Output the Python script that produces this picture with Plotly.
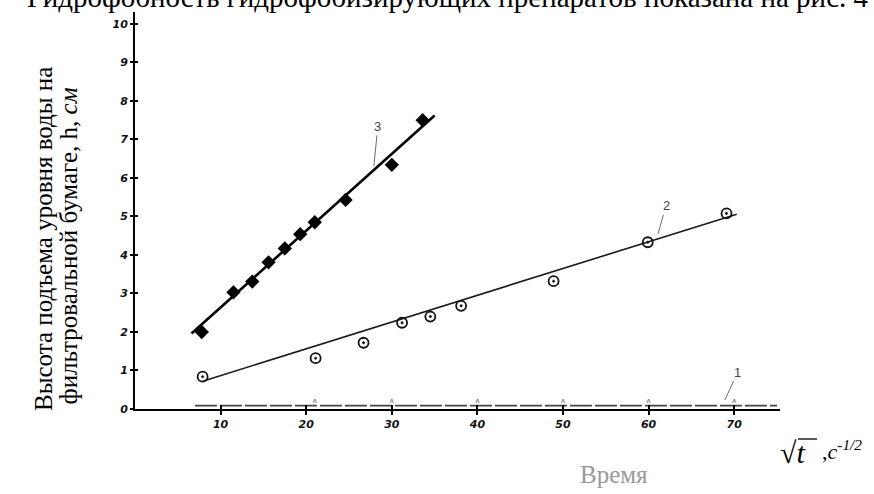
import plotly.graph_objects as go

# ---- data ----
# curve 3: filled markers
x3 = [7.8, 11.5, 13.7, 15.6, 17.5, 19.3, 21.0, 24.6, 30.0, 33.6]
y3 = [2.0, 3.03, 3.31, 3.81, 4.17, 4.54, 4.85, 5.43, 6.34, 7.5]
line3_x = [6.6, 35.0]
line3_y = [1.96, 7.62]

# curve 2: open circles
x2 = [7.9, 21.1, 26.7, 31.2, 34.5, 38.1, 48.9, 59.9, 69.1]
y2 = [0.84, 1.32, 1.72, 2.24, 2.40, 2.68, 3.32, 4.33, 5.08]
line2_x = [8.0, 70.3]
line2_y = [0.73, 5.06]

# curve 1: practically zero rise
line1_x = [7.0, 75.0]
line1_y = [0.09, 0.09]
marks1_x = [21, 30, 40, 50, 60, 70]
marks1_y = [0.2, 0.2, 0.2, 0.2, 0.2, 0.2]

x_ticks = [10, 20, 30, 40, 50, 60, 70]
y_ticks = [0, 1, 2, 3, 4, 5, 6, 7, 8, 9, 10]

ytitle_1 = "Высота подъема уровня воды на"
ytitle_2 = "фильтровальной бумаге, h, <i>см</i>"
xtitle = "Время"
top_text = "Гидрофобность гидрофобизирующих препаратов показана на рис. 4"

X_RANGE = [0, 75.35]
Y_RANGE = [0, 10.31]

fig = go.Figure()

fig.add_trace(go.Scatter(x=line1_x, y=line1_y, mode="lines",
                         line=dict(color="#444", width=1.8, dash="22px,3px"),
                         hoverinfo="skip", showlegend=False))
fig.add_trace(go.Scatter(x=marks1_x, y=marks1_y, mode="text", text=["ʌ"] * len(marks1_x),
                         textfont=dict(size=8, color="#555"), showlegend=False))

fig.add_trace(go.Scatter(x=line2_x, y=line2_y, mode="lines",
                         line=dict(color="#1a1a1a", width=1.6), showlegend=False))
fig.add_trace(go.Scatter(x=x2, y=y2, mode="markers",
                         marker=dict(symbol="circle-open-dot", size=10, color="#111",
                                     line=dict(width=1.8, color="#111")),
                         showlegend=False))

fig.add_trace(go.Scatter(x=line3_x, y=line3_y, mode="lines",
                         line=dict(color="#000", width=2.6), showlegend=False))
fig.add_trace(go.Scatter(x=x3, y=y3, mode="markers",
                         marker=dict(symbol="diamond", size=11, color="#000"),
                         showlegend=False))

tickfont = dict(family="DejaVu Sans", size=11, color="#111", weight="bold", style="italic")
fig.update_layout(
    xaxis=dict(range=X_RANGE, showline=True, linecolor="#000", linewidth=2,
               tickvals=x_ticks, ticktext=[str(v) for v in x_ticks],
               ticks="outside", ticklen=4, tickcolor="#000", tickwidth=1.5,
               tickfont=tickfont, showgrid=False, zeroline=False),
    yaxis=dict(range=Y_RANGE, showline=True, linecolor="#000", linewidth=2,
               tickvals=y_ticks, ticktext=[str(v) for v in y_ticks],
               ticks="outside", ticklen=3, tickcolor="#000", tickwidth=1.5,
               tickfont=tickfont, showgrid=False, zeroline=False),
    # overlay axes that add the inner half of the cross-shaped ticks
    xaxis2=dict(range=X_RANGE, overlaying="x", anchor="y", side="bottom",
                tickvals=x_ticks, ticks="inside", ticklen=4, tickcolor="#000",
                tickwidth=1.5, showticklabels=False, showgrid=False, zeroline=False),
    yaxis2=dict(range=Y_RANGE, overlaying="y", anchor="x", side="left",
                tickvals=y_ticks, ticks="inside", ticklen=3, tickcolor="#000",
                tickwidth=1.5, showticklabels=False, showgrid=False, zeroline=False),
)
fig.add_trace(go.Scatter(x=[None], y=[None], xaxis="x2", yaxis="y2", showlegend=False))

serif = "Liberation Serif"
ann = []
# series labels with leader lines
ann.append(dict(x=27.9, y=6.3, xref="x", yref="y", text="3", showarrow=True,
                arrowhead=0, arrowwidth=0.8, arrowcolor="#444", ax=4, ay=-40,
                font=dict(family="Liberation Sans", size=13, color="#444")))
ann.append(dict(x=61.1, y=4.55, xref="x", yref="y", text="2", showarrow=True,
                arrowhead=0, arrowwidth=0.8, arrowcolor="#444", ax=8, ay=-28,
                font=dict(family="Liberation Sans", size=13, color="#444")))
ann.append(dict(x=68.9, y=0.23, xref="x", yref="y", text="1", showarrow=True,
                arrowhead=0, arrowwidth=0.8, arrowcolor="#444", ax=13, ay=-28,
                font=dict(family="Liberation Sans", size=13, color="#444")))
# y title (two lines, rotated, bottom aligned)
ann.append(dict(x=(43 - 135) / 645, y=(409 - 413) / 397, xref="paper", yref="paper",
                xanchor="center", yanchor="bottom", text=ytitle_1,
                textangle=-90, showarrow=False, font=dict(family=serif, size=25, color="#000")))
ann.append(dict(x=(68 - 135) / 645, y=(409 - 407) / 397, xref="paper", yref="paper",
                xanchor="center", yanchor="bottom", text=ytitle_2,
                textangle=-90, showarrow=False, font=dict(family=serif, size=25, color="#000")))
# x unit label
ann.append(dict(x=(778 - 135) / 645, y=(409 - 452) / 397, xref="paper", yref="paper",
                xanchor="left", yanchor="middle", text="√<i>t</i>", showarrow=False,
                font=dict(family=serif, size=30, color="#000")))
ann.append(dict(x=(820 - 135) / 645, y=(409 - 450) / 397, xref="paper", yref="paper",
                xanchor="left", yanchor="middle",
                text=",<i>c</i><sup><i>-1/2</i></sup>", showarrow=False,
                font=dict(family=serif, size=22, color="#000")))
# x title
ann.append(dict(x=(614 - 135) / 645, y=(409 - 474) / 397, xref="paper", yref="paper",
                xanchor="center", yanchor="middle", text=xtitle,
                showarrow=False, font=dict(family=serif, size=25, color="#999")))
# clipped text at the very top
ann.append(dict(x=(25 - 135) / 645, y=(409 - 15) / 397, xref="paper", yref="paper",
                xanchor="left", yanchor="bottom", text=top_text, showarrow=False,
                font=dict(family=serif, size=29, color="#000")))

fig.update_layout(width=874, height=494, margin=dict(l=135, r=94, t=12, b=85),
                  paper_bgcolor="white", plot_bgcolor="white",
                  annotations=ann, showlegend=False)
# vinculum of the square-root sign
fig.add_shape(type="line", xref="paper", yref="paper",
              x0=(798 - 135) / 645, x1=(817 - 135) / 645,
              y0=(409 - 439) / 397, y1=(409 - 439) / 397,
              line=dict(color="#000", width=1.3))

# the page's default 8px body margin would shift the whole figure; remove it
fig.write_html("out.html", config={"displayModeBar": False},
               post_script="document.body.style.margin='0px';")
